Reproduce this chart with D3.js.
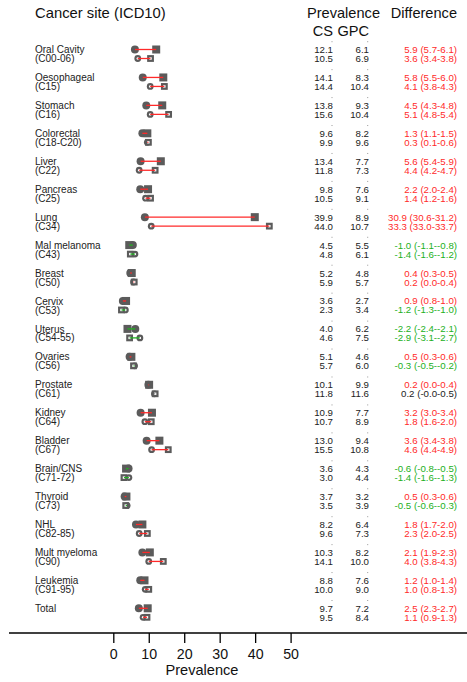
<!DOCTYPE html>
<html>
<head>
<meta charset="utf-8">
<script src="https://cdn.jsdelivr.net/npm/d3@7"></script>
<style>
  body { margin: 0; background: #fff; }
  svg text { font-family: "Liberation Sans", Arial, sans-serif; }
</style>
</head>
<body>
<div id="chart"></div>
<script>
// cancer sites, two rows each
var sites = ["Oral Cavity", "Oesophageal", "Stomach", "Colorectal", "Liver", "Pancreas", "Lung",
  "Mal melanoma", "Breast", "Cervix", "Uterus", "Ovaries", "Prostate", "Kidney", "Bladder",
  "Brain/CNS", "Thyroid", "NHL", "Mult myeloma", "Leukemia", "Total"];
var codes = ["(C00-06)", "(C15)", "(C16)", "(C18-C20)", "(C22)", "(C25)", "(C34)",
  "(C43)", "(C50)", "(C53)", "(C54-55)", "(C56)", "(C61)", "(C64)", "(C67)",
  "(C71-72)", "(C73)", "(C82-85)", "(C90)", "(C91-95)", ""];

// row 1 (filled markers)
var cs1  = [12.1, 14.1, 13.8, 9.6, 13.4, 9.8, 39.9, 4.5, 5.2, 3.6, 4.0, 5.1, 10.1, 10.9, 13.0, 3.6, 3.7, 8.2, 10.3, 8.8, 9.7];
var gpc1 = [6.1, 8.3, 9.3, 8.2, 7.7, 7.6, 8.9, 5.5, 4.8, 2.7, 6.2, 4.6, 9.9, 7.7, 9.4, 4.3, 3.2, 6.4, 8.2, 7.6, 7.2];
var diff1 = ["5.9 (5.7-6.1)", "5.8 (5.5-6.0)", "4.5 (4.3-4.8)", "1.3 (1.1-1.5)", "5.6 (5.4-5.9)", "2.2 (2.0-2.4)",
  "30.9 (30.6-31.2)", "-1.0 (-1.1--0.8)", "0.4 (0.3-0.5)", "0.9 (0.8-1.0)", "-2.2 (-2.4--2.1)", "0.5 (0.3-0.6)",
  "0.2 (0.0-0.4)", "3.2 (3.0-3.4)", "3.6 (3.4-3.8)", "-0.6 (-0.8--0.5)", "0.5 (0.3-0.6)", "1.8 (1.7-2.0)",
  "2.1 (1.9-2.3)", "1.2 (1.0-1.4)", "2.5 (2.3-2.7)"];
var sig1 = [1, 1, 1, 1, 1, 1, 1, -1, 1, 1, -1, 1, 1, 1, 1, -1, 1, 1, 1, 1, 1];

// row 2 (open markers)
var cs2  = [10.5, 14.4, 15.6, 9.9, 11.8, 10.5, 44.0, 4.8, 5.9, 2.3, 4.6, 5.7, 11.8, 10.7, 15.5, 3.0, 3.5, 9.6, 14.1, 10.0, 9.5];
var gpc2 = [6.9, 10.4, 10.4, 9.6, 7.3, 9.1, 10.7, 6.1, 5.7, 3.4, 7.5, 6.0, 11.6, 8.9, 10.8, 4.4, 3.9, 7.3, 10.0, 9.0, 8.4];
var diff2 = ["3.6 (3.4-3.8)", "4.1 (3.8-4.3)", "5.1 (4.8-5.4)", "0.3 (0.1-0.6)", "4.4 (4.2-4.7)", "1.4 (1.2-1.6)",
  "33.3 (33.0-33.7)", "-1.4 (-1.6--1.2)", "0.2 (0.0-0.4)", "-1.2 (-1.3--1.0)", "-2.9 (-3.1--2.7)", "-0.3 (-0.5--0.2)",
  "0.2 (-0.0-0.5)", "1.8 (1.6-2.0)", "4.6 (4.4-4.9)", "-1.4 (-1.6--1.3)", "-0.5 (-0.6--0.3)", "2.3 (2.0-2.5)",
  "4.0 (3.8-4.3)", "1.0 (0.8-1.3)", "1.1 (0.9-1.3)"];
var sig2 = [1, 1, 1, 1, 1, 1, 1, -1, 1, -1, -1, -1, 0, 1, 1, -1, -1, 1, 1, 1, 1];

var xTicks = [0, 10, 20, 30, 40, 50];

var width = 467, height = 682;
var RED = "#ff2a2a", GREEN = "#22b022", GREY = "#5b5b5b";
function sigColor(s) { return s > 0 ? RED : (s < 0 ? GREEN : "#222"); }

var svg = d3.select("#chart").append("svg")
  .attr("width", width)
  .attr("height", height);

var x = d3.scaleLinear().domain([0, 50]).range([113.3, 290.6]);
var y = d3.scaleLinear().domain([0, sites.length - 1]).range([49.5, 608.3]);
var rowGap = 9;

// headers
svg.append("text").attr("x", 35).attr("y", 17.5)
  .style("font-size", "14.8px").style("fill", "#111").text("Cancer site (ICD10)");
svg.append("text").attr("x", 307).attr("y", 17.5)
  .style("font-size", "14.6px").style("fill", "#111").text("Prevalence");
svg.append("text").attr("x", 457).attr("y", 17.5).attr("text-anchor", "end")
  .style("font-size", "14.6px").style("fill", "#111").text("Difference");
svg.append("text").attr("x", 333).attr("y", 35.5).attr("text-anchor", "end")
  .style("font-size", "14.6px").style("fill", "#111").text("CS");
svg.append("text").attr("x", 369).attr("y", 35.5).attr("text-anchor", "end")
  .style("font-size", "14.6px").style("fill", "#111").text("GPC");

var rows = svg.selectAll("g.site")
  .data(sites)
  .enter()
  .append("g")
  .attr("class", "site")
  .attr("transform", function(d, i) { return "translate(0," + y(i) + ")"; });

// labels
rows.append("text").attr("x", 35).attr("dy", "0.36em")
  .style("font-size", "10px").style("fill", "#222")
  .text(function(d) { return d; });
rows.append("text").attr("x", 35).attr("y", rowGap).attr("dy", "0.36em")
  .style("font-size", "10px").style("fill", "#222")
  .text(function(d, i) { return codes[i]; });

// row 1 markers: filled circle (GPC), filled square (CS)
rows.append("circle")
  .attr("cx", function(d, i) { return x(gpc1[i]); })
  .attr("r", 4)
  .style("fill", GREY);
rows.append("rect")
  .attr("x", function(d, i) { return x(cs1[i]) - 4; })
  .attr("y", -4).attr("width", 8).attr("height", 8)
  .style("fill", GREY);
rows.append("line")
  .attr("x1", function(d, i) { return x(gpc1[i]); })
  .attr("x2", function(d, i) { return x(cs1[i]); })
  .style("stroke", function(d, i) { return sigColor(sig1[i]); })
  .style("stroke-width", 1.3);

// row 2 markers: circle / square with white centre
rows.append("circle")
  .attr("cx", function(d, i) { return x(gpc2[i]); })
  .attr("cy", rowGap)
  .attr("r", 3.4)
  .style("fill", GREY);
rows.append("circle")
  .attr("cx", function(d, i) { return x(gpc2[i]); })
  .attr("cy", rowGap)
  .attr("r", 1.2)
  .style("fill", "#fff");
rows.append("rect")
  .attr("x", function(d, i) { return x(cs2[i]) - 3.4; })
  .attr("y", rowGap - 3.4).attr("width", 6.8).attr("height", 6.8)
  .style("fill", GREY);
rows.append("rect")
  .attr("x", function(d, i) { return x(cs2[i]) - 1.2; })
  .attr("y", rowGap - 1.2).attr("width", 2.4).attr("height", 2.4)
  .style("fill", "#fff");
rows.append("line")
  .attr("x1", function(d, i) { return x(gpc2[i]); })
  .attr("x2", function(d, i) { return x(cs2[i]); })
  .attr("y1", rowGap).attr("y2", rowGap)
  .style("stroke", function(d, i) { return sigColor(sig2[i]); })
  .style("stroke-width", 1.3);

// prevalence numbers
function numCol(xPos, arr, dy) {
  rows.append("text")
    .attr("x", xPos).attr("y", dy).attr("dy", "0.36em")
    .attr("text-anchor", "end")
    .style("font-size", "9.7px").style("fill", "#222")
    .text(function(d, i) { return arr[i].toFixed(1); });
}
numCol(333, cs1, 0);
numCol(369, gpc1, 0);
numCol(333, cs2, rowGap);
numCol(369, gpc2, rowGap);

// tiny marks above row 1 numbers
[332, 367.7].forEach(function(px) {
  rows.append("rect")
    .attr("x", px - 0.5).attr("y", -8.3).attr("width", 1).attr("height", 1)
    .style("fill", "#999");
});

// differences
rows.append("text")
  .attr("x", 457).attr("dy", "0.36em").attr("text-anchor", "end")
  .style("font-size", "9.7px")
  .style("fill", function(d, i) { return sigColor(sig1[i]); })
  .text(function(d, i) { return diff1[i]; });
rows.append("text")
  .attr("x", 457).attr("y", rowGap).attr("dy", "0.36em").attr("text-anchor", "end")
  .style("font-size", "9.7px")
  .style("fill", function(d, i) { return sigColor(sig2[i]); })
  .text(function(d, i) { return diff2[i]; });

// x axis
var axisY = 633;
svg.append("line")
  .attr("x1", 9).attr("x2", 467).attr("y1", axisY).attr("y2", axisY)
  .style("stroke", "#000").style("stroke-width", 1.3);

var xAxis = d3.axisBottom(x).tickValues(xTicks).tickSize(10).tickPadding(6)
  .tickFormat(d3.format("d"));
var gx = svg.append("g")
  .attr("transform", "translate(0," + axisY + ")")
  .call(xAxis);
gx.select(".domain").remove();
gx.selectAll(".tick line").style("stroke", "#000").style("stroke-width", 1.3);
gx.selectAll(".tick text")
  .style("font-family", "Liberation Sans, Arial, sans-serif")
  .style("font-size", "14.2px").style("fill", "#111");

svg.append("text")
  .attr("x", x(25)).attr("y", 675).attr("text-anchor", "middle")
  .style("font-size", "14.6px").style("fill", "#111")
  .text("Prevalence");
</script>
</body>
</html>
